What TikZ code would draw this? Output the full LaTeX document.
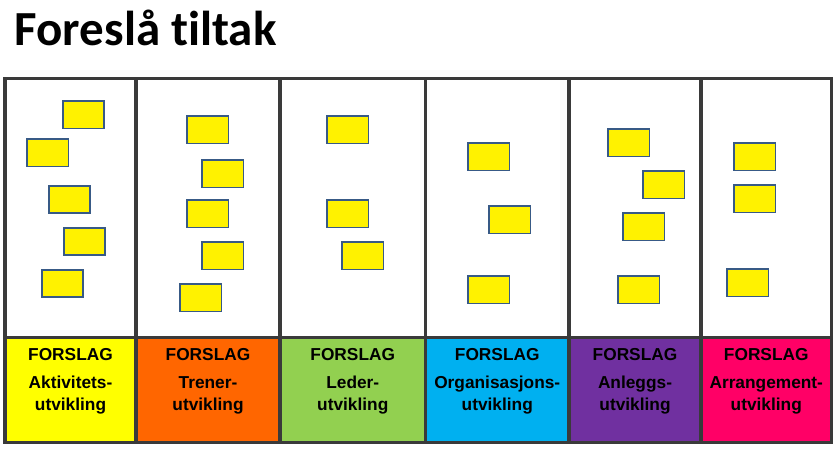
\documentclass[tikz,border=0pt]{standalone}
\usepackage{fontspec}
\setmainfont{Liberation Sans}
\newfontfamily\titlefont[Ligatures=NoCommon]{Carlito}
\definecolor{gridc}{HTML}{3A3A3A}
\definecolor{notec}{HTML}{385A86}
\definecolor{cA}{HTML}{FFFF00}
\definecolor{cB}{HTML}{FF6600}
\definecolor{cC}{HTML}{92D050}
\definecolor{cD}{HTML}{00B0F0}
\definecolor{cE}{HTML}{7030A0}
\definecolor{cF}{HTML}{FF0066}
\tikzset{
  note/.style={draw=notec, fill=yellow, line width=1.8pt, minimum width=41.2pt, minimum height=27.2pt, inner sep=0pt, anchor=north west},
  gridline/.style={draw=gridc, line width=3.2pt},
  lbl/.style={font=\bfseries\fontsize{17.3}{20}\selectfont, anchor=base, inner sep=0pt},
}
\begin{document}
\begin{tikzpicture}[x=1pt,y=-1pt]
\useasboundingbox (0,0) rectangle (840,453);
\node[anchor=base west, inner sep=0pt, font=\titlefont\bfseries\fontsize{49}{52}\selectfont] (title) at (14.5,45.5) {Foreslå tiltak};
% coloured label cells
\fill[cA] (5,337.5) rectangle (136,442.5);
\fill[cB] (136,337.5) rectangle (280,442.5);
\fill[cC] (280,337.5) rectangle (425.5,442.5);
\fill[cD] (425.5,337.5) rectangle (569,442.5);
\fill[cE] (569,337.5) rectangle (701,442.5);
\fill[cF] (701,337.5) rectangle (831.5,442.5);
% grid
\draw[gridline] (5,78.5) rectangle (831.5,442.5);
\draw[gridline] (5,337.5) -- (831.5,337.5);
\foreach \x in {136,280,425.5,569,701} \draw[gridline] (\x,78.5) -- (\x,442.5);
% labels
\foreach \cx/\a/\n in {70.5/Aktivitets-/1, 208/Trener-/2, 352.75/Leder-/3, 497.25/Organisasjons-/4, 635/Anleggs-/5, 766.25/Arrangement-/6}{
  \node[lbl] (f\n) at (\cx,360) {FORSLAG};
  \node[lbl] (a\n) at (\cx,388) {\a};
  \node[lbl] (u\n) at (\cx,410) {utvikling};
}
% sticky notes
\foreach \x/\y/\n in {
  61/99.5/11, 25.5/137.5/12, 47/184/13, 62/226/14, 40/268/15,
  185.5/114.5/21, 200.5/158.5/22, 185.5/198.5/23, 200.5/240.5/24, 178.5/282.5/25,
  325.5/114.5/31, 325.5/198.5/32, 340.5/240.5/33,
  466.5/141.5/41, 487.5/204.5/42, 466.5/274.5/43,
  606.5/127.5/51, 641.5/169.5/52, 621.5/211.5/53, 616.5/274.5/54,
  732.5/141.5/61, 732.5/183.5/62, 725.5/267.5/63}{
  \node[note] (n\n) at (\x+0.9,\y+0.9) {};
}
\end{tikzpicture}
\end{document}
